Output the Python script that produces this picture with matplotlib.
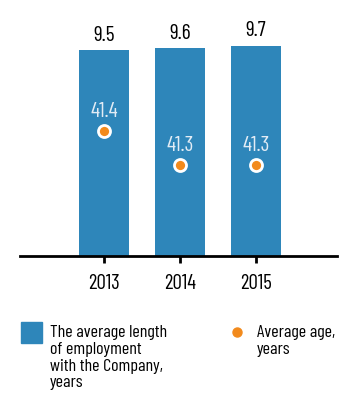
import matplotlib.pyplot as plt
from matplotlib.lines import Line2D
from matplotlib.patches import Rectangle

plt.rcParams['font.family'] = ['Barlow Condensed', 'DejaVu Sans']

years = ['2013', '2014', '2015']
tenure = [9.5, 9.6, 9.7]
age = [41.4, 41.3, 41.3]
tenure_label = 'The average length\nof employment\nwith the Company,\nyears'
age_label = 'Average age,\nyears'

blue = '#2e86ba'
orange = '#f28a1c'

fig = plt.figure(figsize=(3.4, 3.96), dpi=100)
ax = fig.add_axes([20/340, 140/396, 317/340, 256/396])
x = list(range(len(years)))
ax.bar(x, tenure, width=0.67, color=blue)
ax.set_xlim(-1.105, 3.066)
ax.set_ylim(0, 11.8)
for xi, v in zip(x, tenure):
    ax.text(xi, v + 0.42, f'{v}', ha='center', va='baseline', fontsize=15.5)

ax.set_xticks(x)
ax.set_xticklabels(years, fontsize=15)
ax.tick_params(axis='x', length=5, width=2, pad=8)
ax.set_yticks([])
for s in ['top', 'right', 'left']:
    ax.spines[s].set_visible(False)
ax.spines['bottom'].set_linewidth(2)

# age dots on their own scale
ax2 = ax.twinx()
ax2.set_ylim(41.032, 41.785)
ax2.scatter(x, age, s=75, color=orange, edgecolors='white', linewidths=2, zorder=3)
for xi, a in zip(x, age):
    ax2.text(xi, a + 0.042, f'{a}', ha='center', va='baseline', fontsize=15.5, color='#e2ecf5')
ax2.axis('off')

# legend drawn by hand
fig.add_artist(Rectangle((21/340, 1 - 343/396), 21/340, 21/396,
                         transform=fig.transFigure, color=blue))
fig.text(50/340, 1 - 325/396, tenure_label, va='top', ha='left',
         fontsize=13, linespacing=1.15)
fig.add_artist(Line2D([237/340], [1 - 332/396], transform=fig.transFigure,
                      marker='o', ls='', color=orange, markersize=6.5))
fig.text(257/340, 1 - 325/396, age_label, va='top', ha='left',
         fontsize=13, linespacing=1.15)

fig.savefig('out.png', dpi=100)
